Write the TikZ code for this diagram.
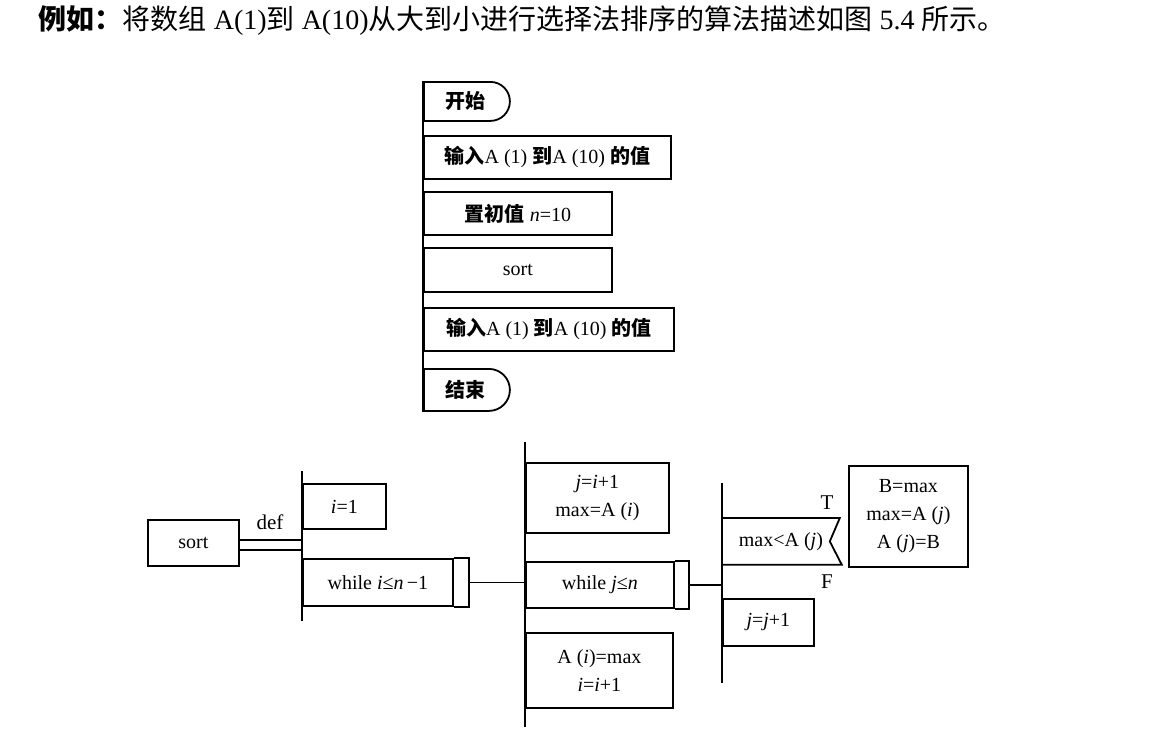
\documentclass[tikz,border=0pt]{standalone}
\usepackage{fontspec}
\setmainfont{Liberation Serif}
\newfontfamily\cjk{Noto Sans CJK SC}
\newcommand{\zh}[1]{{\cjk #1}}
\newcommand{\zhb}[1]{{\cjk\bfseries #1}}
\usetikzlibrary{shapes.misc}
\begin{document}
\begin{tikzpicture}
  [x=0.5pt,y=-0.5pt,line width=0.9pt,
   pbox/.style={draw,rectangle,anchor=north west,inner sep=1pt,align=center,font=\fontsize{10}{14}\selectfont},
   term/.style={draw,rounded rectangle,rounded rectangle left arc=none,anchor=north west,inner sep=1pt,font=\fontsize{10}{12}\selectfont},
   pad/.style={line width=1.3pt},
   lbl/.style={inner sep=0pt,font=\fontsize{10.5}{12}\selectfont}]
  \useasboundingbox (0,0) rectangle (1152,746);
  \node[anchor=west,inner sep=0pt,font=\fontsize{14}{16}\selectfont] (title) at (38,21) {\zhb{例如：}\zh{将数组} A(1)\zh{到} A(10)\zh{从大到小进行选择法排序的算法描述如图} 5.4 \zh{所示。}};

  \node[term,minimum width=45pt,minimum height=19.5pt] (start) at (423,81) {\zhb{开始}};
  \node[pbox,minimum width=123.5pt,minimum height=21.5pt] (in) at (423,135) {\zhb{输入}A (1) \zhb{到}A (10) \zhb{的值}};
  \node[pbox,minimum width=94pt,minimum height=21.5pt] (init) at (423,191) {\zhb{置初值} \textit{n}=10};
  \node[pbox,minimum width=94pt,minimum height=22pt] (call) at (423,247) {sort};
  \node[pbox,minimum width=125pt,minimum height=21.5pt] (out) at (423,307) {\zhb{输入}A (1) \zhb{到}A (10) \zhb{的值}};
  \node[term,minimum width=45pt,minimum height=21pt] (stop) at (423,368) {\zhb{结束}};
  \draw[pad] (start.north west) -- (stop.south west);

  \node[pbox,minimum width=45.5pt,minimum height=23pt] (sort) at (147,519) {sort};
  \coordinate (l1a) at (302,471);
  \coordinate (l1b) at (302,621);
  \draw[pad] (l1a) -- (l1b);
  \draw ([yshift=1.5pt]sort.east) -- ([yshift=1.5pt]sort.east -| l1a);
  \draw ([yshift=-3.5pt]sort.east) -- ([yshift=-3.5pt]sort.east -| l1a);
  \node[lbl] (def) at (270,522) {def};
  \node[pbox,minimum width=41.5pt,minimum height=22.5pt] (i1) at (302,483) {\textit{i}=1};
  \node[pbox,minimum width=75pt,minimum height=23.5pt] (wi) at (302,558) {while \textit{i}≤\textit{n}\,−1};
  \draw (wi.north east) -| ([xshift=7.5pt]wi.south east) -- (wi.south east);
  \coordinate (wiend) at ([xshift=7.5pt]wi.east);

  \coordinate (l2a) at (525,442);
  \coordinate (l2b) at (525,727);
  \draw[pad] (l2a) -- (l2b);
  \draw (wiend) -- (wiend -| l2a);
  \node[pbox,minimum width=71.5pt,minimum height=35pt] (ji) at (525,462) {\textit{j}=\textit{i}+1\\max=A (\textit{i})};
  \node[pbox,minimum width=74pt,minimum height=23pt] (wj) at (525,561) {while \textit{j}≤\textit{n}};
  \draw (wj.north east) -| ([xshift=7pt]wj.south east) -- (wj.south east);
  \coordinate (wjend) at ([xshift=7pt]wj.east);
  \node[pbox,minimum width=73.5pt,minimum height=37.5pt] (ai) at (525,632) {A (\textit{i})=max\\\textit{i}=\textit{i}+1};

  \coordinate (l3a) at (722,483);
  \coordinate (l3b) at (722,683);
  \draw[pad] (l3a) -- (l3b);
  \draw (wjend) -- (wjend -| l3a);
  \node[pbox,draw=none,minimum width=58pt,minimum height=22.5pt] (cond) at (722,518) {max<A (\textit{j})};
  \draw (cond.north west) -- (cond.north east) -- ([xshift=-5pt]cond.east) -- ([xshift=1pt]cond.south east) -- (cond.south west);
  \node[lbl] (t) at (827,503) {T};
  \node[lbl] (f) at (827,582) {F};
  \node[pbox,minimum width=59.5pt,minimum height=50.5pt] (swap) at (848,465) {B=max\\max=A (\textit{j})\\A (\textit{j})=B};
  \node[pbox,minimum width=45.5pt,minimum height=23.5pt] (jj) at (722,598) {\textit{j}=\textit{j}+1};
\end{tikzpicture}
\end{document}
